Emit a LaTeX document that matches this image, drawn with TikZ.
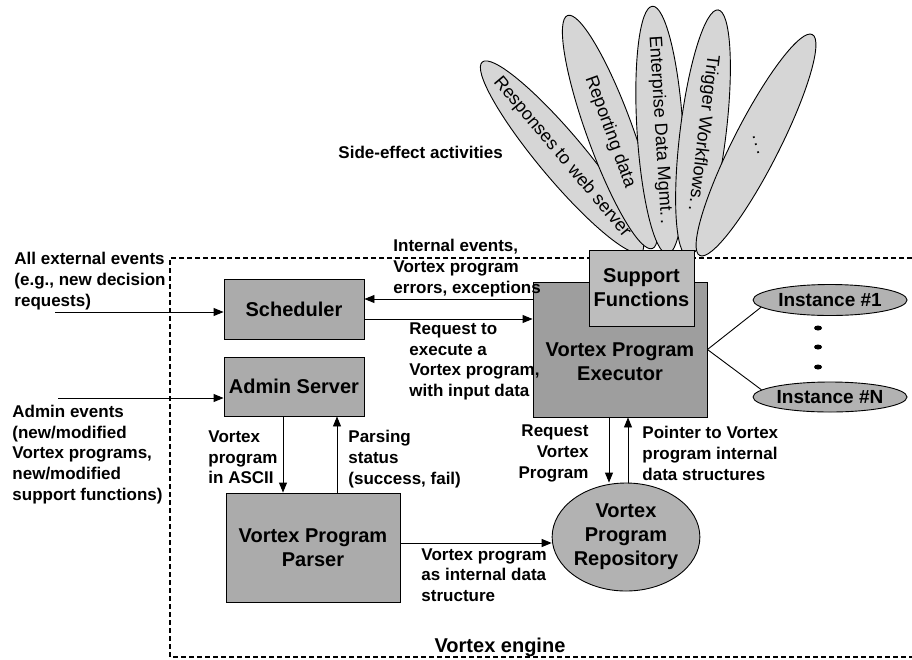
\documentclass[tikz,border=0pt]{standalone}
\usepackage{fontspec}
\setmainfont{Liberation Sans}
\usetikzlibrary{shapes.geometric,arrows.meta}
\definecolor{boxgray}{gray}{0.67}
\definecolor{execgray}{gray}{0.62}
\definecolor{suppgray}{gray}{0.74}
\definecolor{ovalgray}{gray}{0.70}
\definecolor{petalgray}{gray}{0.84}

\begin{document}
\begin{tikzpicture}[x=1pt,y=-1pt,line width=0.9pt,
  box/.style={draw,fill=boxgray,inner sep=0,align=center,font=\fontsize{20}{24}\selectfont\bfseries},
  oval/.style={ellipse,draw,fill=ovalgray,inner sep=0,align=center,font=\fontsize{20}{24}\selectfont\bfseries},
  lbl/.style={inner sep=0,anchor=west,align=left,font=\fontsize{17}{20.7}\selectfont\bfseries},
  petal/.style={draw,fill=petalgray},
  petaltext/.style={inner sep=0,font=\fontsize{18}{20}\selectfont},
  arr/.style={-{Triangle[length=10pt,width=8pt]}}]
\useasboundingbox (0,0) rectangle (912,659);
% engine frame
\draw[dash pattern=on 5pt off 3pt,line width=1.2pt] (912,258) -- (170,258) -- (170,657) -- (912,657);
\node[font=\fontsize{20}{24}\selectfont\bfseries] (engine) at (500,647) {Vortex engine};
% side-effect petals
\foreach \cx/\cy/\ang/\tang/\txt [count=\i] in
  {562/157/-50/-50/Responses to web server,
   610/132/-70/-70/Reporting data,
   660/130/-86.5/-86.5/Enterprise Data Mgmt.\,.,
   703/133/-97/-97/Trigger Workflows.\,.,
   756/145/-117/-75/.\,.\,.}
{
  \draw[petal,rotate around={\ang:(\cx,\cy)}] (\cx,\cy) ellipse (124pt and 23pt);
  \node[petaltext,rotate=\tang] (petal\i) at (\cx,\cy) {\txt};
}
\node[lbl] (sidelbl) at (338,152) {Side-effect activities};
% executor and support functions
\node[box,fill=execgray,minimum width=174pt,minimum height=135pt] (exec) at (620,349.5) {};
\node[font=\fontsize{20}{24}\selectfont\bfseries,align=center] (exectext) at (620,362) {Vortex Program\\Executor};
\node[box,fill=suppgray,minimum width=105pt,minimum height=76pt] (supp) at (641.5,288) {Support\\Functions};
% other boxes
\node[box,minimum width=140pt,minimum height=60pt] (sched) at (294,309) {Scheduler};
\node[box,minimum width=140pt,minimum height=59pt] (admin) at (294,386.5) {Admin Server};
\node[box,minimum width=174pt,minimum height=109pt] (parser) at (313,547.5) {Vortex Program\\Parser};
\node[oval,minimum width=146pt,minimum height=108pt] (repo) at (626,537) {Vortex\\Program\\Repository};
% instances
\node[oval,font=\fontsize{19}{22}\selectfont\bfseries,minimum width=154pt,minimum height=31pt] (inst1) at (830,300) {Instance \#1};
\node[oval,font=\fontsize{19}{22}\selectfont\bfseries,minimum width=154pt,minimum height=30pt] (instN) at (830,397) {Instance \#N};
\foreach \y in {328,347,367}
  \fill (818,\y) ellipse (4pt and 2.5pt);
\draw (exec.east) -- (inst1.186);
\draw (exec.east) -- (instN.174);
% arrows
\coordinate (extin) at (55,312);
\coordinate (admevt) at (58,398);
\draw[arr] (extin) -- ([yshift=-3pt]sched.west);
\draw[arr] (admevt) -- ([yshift=-11.5pt]admin.west);
\draw[arr] ([yshift=50.5pt]exec.west) -- ([yshift=10pt]sched.east);
\draw[arr] ([yshift=-10pt]sched.east) -- ([yshift=30.5pt]exec.west);
\draw[arr] ([xshift=-11pt]admin.south) -- ([xshift=-30pt]parser.north);
\draw[arr] ([xshift=24pt]parser.north) -- ([xshift=43pt]admin.south);
\draw[arr] ([yshift=4.5pt]parser.east) -- ([yshift=-6pt]repo.west);
\draw[arr] ([xshift=-11pt]exec.south) -- ([xshift=-17pt]repo.north);
\draw[arr] ([xshift=2pt]repo.north) -- ([xshift=8pt]exec.south);
% labels
\node[lbl] (extlbl) at (14,281) {All external events\\(e.g., new decision\\requests)};
\node[lbl] (admlbl) at (12,454.5) {Admin events\\(new/modified\\Vortex programs,\\new/modified\\support functions)};
\node[lbl] (intlbl) at (393,268) {Internal events,\\Vortex program\\errors, exceptions};
\node[lbl] (reqlbl) at (409,361.5) {Request to\\execute a\\Vortex program,\\with input data};
\node[lbl] (asclbl) at (208,457.5) {Vortex\\program\\in ASCII};
\node[lbl] (parslbl) at (348,459) {Parsing\\status\\(success, fail)};
\node[lbl,anchor=east,align=right] (rqplbl) at (589,453.5) {Request\\Vortex\\Program};
\node[lbl] (ptrlbl) at (642,453.5) {Pointer to Vortex\\program internal\\data structures};
\node[lbl] (dslbl) at (421,575) {Vortex program\\as internal data\\structure};
\end{tikzpicture}
\end{document}
